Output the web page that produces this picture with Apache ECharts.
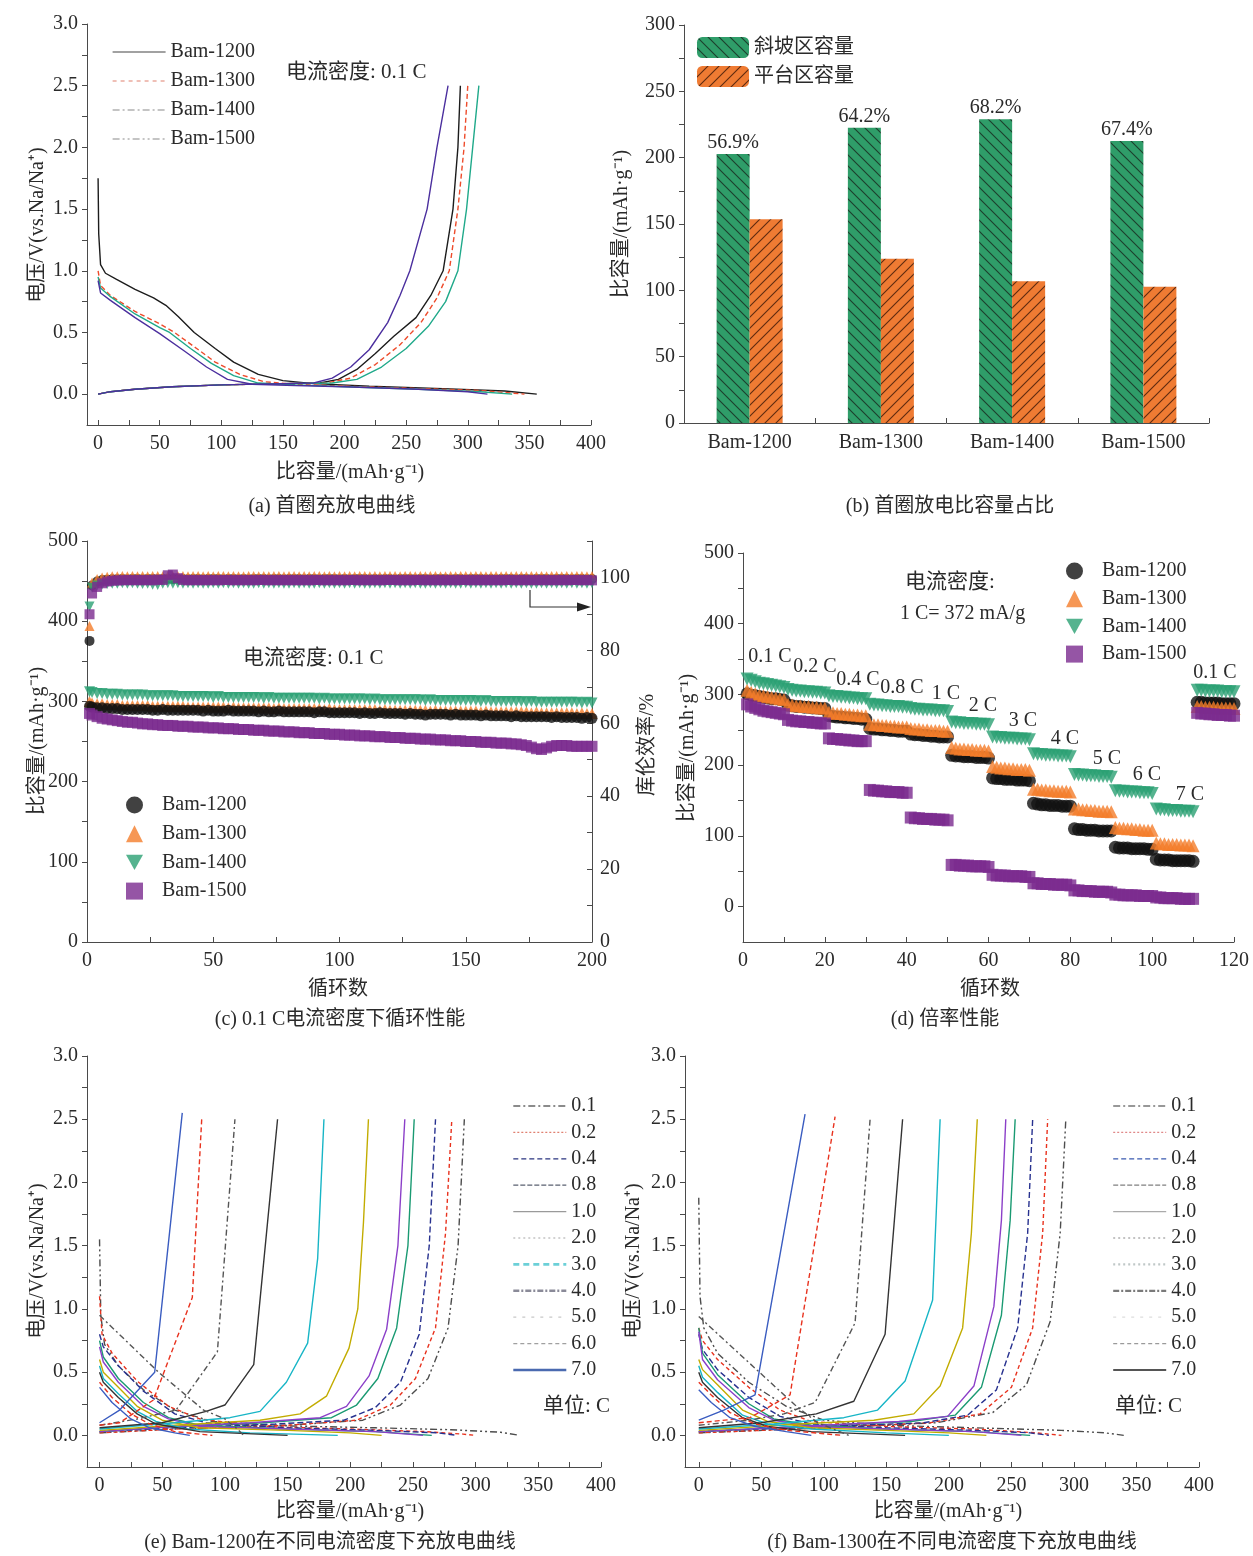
<!DOCTYPE html>
<html>
<head>
<meta charset="utf-8">
<script src="https://cdn.jsdelivr.net/npm/echarts@6/dist/echarts.min.js"></script>
<style>
html,body{margin:0;padding:0;background:#fff;}
#main{width:1253px;height:1556px;}
</style>
</head>
<body>
<div id="main"></div>
<script>
// ===================== (a) first-cycle curves: [capacity mAh/g, voltage V] =====================
const samples = ['Bam-1200', 'Bam-1300', 'Bam-1400', 'Bam-1500'];
const firstDis1200 = [[0,1.75],[0.5,1.3],[2,1.05],[6,0.98],[15,0.93],[30,0.85],[45,0.78],[55,0.72],[65,0.63],[78,0.5],[95,0.37],[110,0.26],[130,0.16],[150,0.11],[175,0.085],[220,0.065],[280,0.045],[330,0.025],[356,0]];
const firstDis1300 = [[0,1.0],[2,0.88],[10,0.8],[30,0.67],[50,0.57],[62,0.5],[80,0.37],[95,0.26],[115,0.16],[135,0.1],[160,0.08],[200,0.065],[260,0.045],[310,0.03],[346,0]];
const firstDis1400 = [[0,0.95],[2,0.86],[10,0.79],[30,0.65],[50,0.54],[58,0.5],[75,0.37],[92,0.25],[110,0.15],[130,0.09],[160,0.075],[200,0.06],[260,0.04],[310,0.02],[336,0]];
const firstDis1500 = [[0,0.92],[2,0.82],[10,0.76],[30,0.62],[50,0.49],[70,0.35],[88,0.22],[105,0.12],[125,0.08],[160,0.07],[200,0.06],[260,0.04],[300,0.02],[316,0]];
const firstChg1200 = [[0,0],[10,0.02],[30,0.04],[60,0.06],[100,0.075],[150,0.085],[180,0.09],[195,0.12],[210,0.2],[225,0.33],[240,0.47],[258,0.62],[270,0.8],[280,1.0],[288,1.5],[292,2.0],[294,2.5]];
const firstChg1300 = [[0,0],[10,0.02],[30,0.04],[60,0.06],[100,0.075],[150,0.085],[185,0.09],[205,0.13],[225,0.24],[245,0.4],[262,0.58],[275,0.78],[285,1.0],[292,1.5],[297,2.0],[300,2.5]];
const firstChg1400 = [[0,0],[10,0.02],[30,0.04],[60,0.06],[100,0.075],[150,0.085],[190,0.09],[210,0.12],[230,0.22],[250,0.37],[268,0.55],[282,0.75],[292,1.0],[299,1.5],[304,2.0],[309,2.5]];
const firstChg1500 = [[0,0],[10,0.02],[30,0.04],[60,0.06],[100,0.075],[150,0.085],[175,0.09],[190,0.13],[205,0.22],[220,0.36],[235,0.58],[245,0.8],[253,1.0],[267,1.5],[275,2.0],[284,2.5]];

// ===================== (b) first discharge capacity split =====================
const regionNames = ['斜坡区容量', '平台区容量'];
const slopeCap = [202.7, 222.5, 229.0, 212.6];
const plateauCap = [153.5, 123.8, 106.8, 102.7];
const slopeShares = ['56.9%', '64.2%', '68.2%', '67.4%'];

// ===================== (c) cycling at 0.1 C (cycle 1, then every 2nd cycle) =====================
const cycleCycles = [1];
for (let n = 2; n <= 200; n += 2) cycleCycles.push(n);
const cap1200 = [294,
 293,292,292,291,291,291,290,290,290,290,
 290,290,289,289,290,289,289,289,289,289,
 289,289,288,289,288,288,288,289,288,288,
 288,288,288,287,288,287,287,288,287,287,
 287,287,287,287,286,287,287,286,286,286,
 286,286,286,285,286,285,285,286,285,285,
 285,285,284,285,284,284,283,284,284,284,
 284,283,284,283,283,283,283,282,283,282,
 282,282,282,281,282,281,281,281,281,281,
 281,280,281,280,280,280,280,279,280,279];
const cap1300 = [300,
 298,297,297,296,296,296,295,295,295,295,
 295,295,294,294,294,294,294,294,294,293,
 293,293,293,293,293,293,293,292,293,292,
 292,292,292,292,292,292,291,292,291,291,
 291,291,291,291,291,291,290,291,290,290,
 290,290,290,290,290,290,290,289,290,289,
 289,289,289,289,289,289,289,288,289,288,
 288,288,288,288,288,288,288,287,288,287,
 287,287,287,287,287,287,287,286,287,286,
 286,286,286,286,286,286,285,286,285,285];
const cap1400 = [312,
 311,310,310,309,309,309,308,308,308,308,
 308,307,307,307,307,307,307,306,306,306,
 306,306,306,306,305,306,305,305,305,305,
 305,305,305,305,304,305,304,304,304,304,
 304,304,304,304,304,303,304,303,303,303,
 303,303,303,303,303,302,303,302,302,302,
 302,302,302,302,302,302,301,302,301,301,
 301,301,301,301,301,301,301,300,301,300,
 300,300,300,300,300,300,299,300,299,299,
 299,299,299,299,299,299,299,298,299,298];
const cap1500 = [285,
 283,281,279,278,277,276,275,274,274,273,
 272,272,271,271,270,270,270,269,269,269,
 268,268,268,267,267,267,266,266,266,265,
 265,265,264,264,264,263,263,263,262,262,
 262,261,261,261,260,260,260,259,259,259,
 258,258,258,257,257,257,256,256,256,255,
 255,255,254,254,254,253,253,253,252,252,
 252,251,251,251,250,250,250,249,249,249,
 248,248,248,247,247,246,245,243,241,240,
 242,244,245,245,245,244,244,244,244,244];
const eff1200 = [82.6,
 97.8,98.9,99.3,99.4,99.5,99.5,99.6,99.5,99.6,99.6,
 99.5,99.6,99.6,99.5,99.6,99.6,99.5,99.6,99.6,99.5,
 99.6,99.6,99.5,99.6,99.6,99.6,99.5,99.6,99.6,99.5,
 99.6,99.5,99.6,99.6,99.6,99.5,99.6,99.6,99.5,99.6,
 99.6,99.6,99.5,99.6,99.6,99.5,99.6,99.6,99.6,99.5,
 99.6,99.5,99.6,99.6,99.6,99.5,99.6,99.5,99.6,99.6,
 99.5,99.6,99.6,99.6,99.5,99.6,99.6,99.5,99.6,99.6,
 99.6,99.5,99.6,99.6,99.5,99.6,99.6,99.6,99.5,99.6,
 99.5,99.6,99.6,99.6,99.5,99.6,99.6,99.5,99.6,99.6,
 99.6,99.5,99.6,99.6,99.6,99.5,99.6,99.6,99.5,99.6];
const eff1300 = [86.7,
 98.6,99.6,100.0,100.2,100.3,100.3,100.4,100.3,100.4,100.3,
 100.4,100.3,100.4,100.4,100.3,100.4,100.3,100.4,100.4,100.3,
 100.4,100.4,100.3,100.4,100.3,100.4,100.4,100.3,100.4,100.3,
 100.3,100.4,100.4,100.3,100.4,100.3,100.4,100.4,100.3,100.4,
 100.4,100.3,100.4,100.3,100.4,100.4,100.3,100.4,100.3,100.4,
 100.3,100.4,100.3,100.4,100.4,100.3,100.4,100.3,100.4,100.4,
 100.4,100.3,100.4,100.4,100.3,100.4,100.3,100.4,100.4,100.3,
 100.3,100.4,100.3,100.4,100.4,100.3,100.4,100.4,100.3,100.4,
 100.4,100.3,100.4,100.3,100.4,100.4,100.3,100.4,100.3,100.4,
 100.3,100.4,100.4,100.3,100.4,100.3,100.4,100.4,100.3,100.4];
const eff1400 = [92.0,
 97.2,97.8,98.1,98.2,98.3,98.3,98.4,98.3,98.4,98.3,
 98.2,98.3,98.0,97.9,98.3,98.4,98.3,98.4,98.3,98.4,
 98.3,98.4,98.3,98.3,98.4,98.3,98.4,98.3,98.4,98.3,
 98.4,98.3,98.3,98.4,98.3,98.4,98.3,98.4,98.3,98.3,
 98.4,98.3,98.4,98.3,98.3,98.4,98.3,98.4,98.3,98.4,
 98.3,98.4,98.3,98.4,98.3,98.3,98.4,98.3,98.4,98.3,
 98.4,98.3,98.4,98.3,98.4,98.3,98.3,98.4,98.3,98.4,
 98.3,98.4,98.3,98.3,98.4,98.3,98.4,98.3,98.4,98.3,
 98.4,98.3,98.4,98.3,98.4,98.3,98.4,98.3,98.3,98.4,
 98.3,98.4,98.3,98.4,98.3,98.4,98.3,98.4,98.3,98.4];
const eff1500 = [89.9,
 95.6,97.4,98.4,98.9,99.1,99.2,99.2,99.3,99.2,99.3,
 99.2,99.3,99.2,99.4,99.3,100.6,100.8,99.8,99.3,99.2,
 99.3,99.2,99.3,99.2,99.3,99.2,99.3,99.3,99.2,99.3,
 99.2,99.3,99.2,99.3,99.3,99.2,99.3,99.2,99.3,99.2,
 99.3,99.2,99.3,99.2,99.3,99.3,99.2,99.3,99.2,99.3,
 99.2,99.3,99.3,99.2,99.3,99.2,99.3,99.2,99.3,99.3,
 99.3,99.2,99.3,99.2,99.3,99.3,99.2,99.3,99.2,99.3,
 99.2,99.3,99.2,99.3,99.3,99.2,99.3,99.2,99.3,99.2,
 99.3,99.2,99.3,99.3,99.2,99.3,99.2,99.3,99.2,99.3,
 99.2,99.3,99.2,99.3,99.2,99.3,99.3,99.2,99.3,99.2];

// ===================== (d) rate capability, 10 cycles per current step =====================
const rateCycles = [];
for (let n = 1; n <= 120; n++) rateCycles.push(n);
const rateSteps = ['0.1 C','0.2 C','0.4 C','0.8 C','1 C','2 C','3 C','4 C','5 C','6 C','7 C','0.1 C'];
const rate1200 = [
 301,299,298,297,296,295,294,294,293,292,
 285,284,283,283,282,282,281,281,280,280,
 270,269,268,268,267,267,266,266,265,265,
 252,251,251,250,250,249,249,248,248,248,
 244,243,243,242,242,241,241,240,240,240,
 214,213,213,212,212,212,211,211,211,210,
 182,181,181,180,180,180,179,179,179,178,
 146,145,144,144,143,143,143,142,142,142,
 110,109,109,108,108,108,107,107,107,107,
 84,83,83,83,82,82,82,82,81,81,
 67,66,66,66,65,65,65,65,65,64,
 289,289,288,288,288,288,287,287,287,287];
const rate1300 = [
 306,303,301,299,298,297,296,295,294,293,
 286,285,284,284,283,283,282,282,281,281,
 275,274,273,273,272,272,271,271,270,270,
 258,257,257,256,256,255,255,254,254,254,
 252,251,251,250,250,249,249,249,248,248,
 225,224,223,223,222,222,221,221,221,220,
 198,197,196,196,195,195,194,194,194,193,
 166,166,165,165,164,164,163,163,163,162,
 138,138,137,137,136,136,135,135,135,134,
 112,111,111,110,110,109,109,108,108,108,
 90,89,89,88,88,88,87,87,87,86,
 283,283,282,282,282,281,281,281,281,280];
const rate1400 = [
 322,320,318,316,315,314,313,312,311,310,
 307,306,305,305,304,304,303,303,302,302,
 298,297,297,296,296,295,295,294,294,294,
 286,285,285,284,284,283,283,283,282,282,
 280,279,279,278,278,278,277,277,277,276,
 261,260,260,259,259,259,258,258,258,257,
 240,239,239,238,238,238,237,237,237,236,
 216,215,215,214,214,214,213,213,213,212,
 187,186,186,185,185,185,184,184,184,183,
 164,163,163,162,162,162,161,161,161,160,
 138,137,137,136,136,136,135,135,135,134,
 306,306,305,305,305,305,304,304,304,304];
const rate1500 = [
 286,283,281,279,277,276,275,274,273,272,
 264,263,262,262,261,261,260,260,259,259,
 238,237,237,236,236,235,235,234,234,234,
 165,164,164,163,163,162,162,162,161,161,
 126,125,125,124,124,124,123,123,123,122,
 59,59,58,58,58,57,57,57,57,56,
 45,44,44,44,43,43,43,43,42,42,
 33,33,32,32,32,31,31,31,31,30,
 23,23,22,22,22,21,21,21,21,20,
 17,17,16,16,16,16,15,15,15,15,
 13,13,12,12,12,12,11,11,11,11,
 274,273,273,272,272,271,271,271,270,270];

// ===================== (e)(f) curves at each current density, [capacity, voltage] =====================
const rates = ['0.1','0.2','0.4','0.8','1.0','2.0','3.0','4.0','5.0','6.0','7.0'];
const bam1200Dis = [
 [[0,1.55],[1,0.95],[4,0.72],[15,0.55],[35,0.36],[60,0.2],[90,0.11],[150,0.075],[220,0.06],[280,0.045],[320,0.025],[335,0]],
 [[0,1.1],[2,0.8],[10,0.65],[30,0.43],[55,0.23],[80,0.13],[130,0.07],[200,0.05],[260,0.03],[290,0.01],[300,0]],
 [[0,0.8],[3,0.7],[15,0.55],[35,0.35],[60,0.17],[85,0.1],[150,0.06],[220,0.04],[270,0.02],[285,0]],
 [[0,0.75],[3,0.62],[15,0.45],[35,0.26],[55,0.14],[80,0.08],[150,0.05],[220,0.03],[265,0]],
 [[0,0.7],[3,0.58],[15,0.42],[35,0.23],[55,0.13],[80,0.07],[150,0.05],[220,0.03],[258,0]],
 [[0,0.6],[3,0.5],[15,0.38],[30,0.23],[50,0.12],[80,0.06],[150,0.04],[200,0.02],[225,0]],
 [[0,0.55],[3,0.45],[15,0.33],[30,0.19],[45,0.11],[70,0.05],[120,0.02],[190,0]],
 [[0,0.5],[3,0.42],[15,0.3],[30,0.17],[45,0.09],[80,0.03],[150,0]],
 [[0,0.95],[47,0.5],[83,0.2],[100,0.13],[110,0.05],[115,0]],
 [[0,0.42],[10,0.3],[25,0.17],[40,0.09],[60,0.03],[90,0]],
 [[0,0.38],[10,0.26],[25,0.13],[40,0.06],[60,0.02],[72,0]]
];
const bam1200Chg = [
 [[0,0.02],[60,0.05],[150,0.08],[210,0.12],[240,0.24],[262,0.45],[278,0.85],[286,1.5],[291,2.5]],
 [[0,0.02],[60,0.05],[150,0.08],[205,0.12],[232,0.24],[252,0.45],[268,0.85],[276,1.6],[281,2.5]],
 [[0,0.03],[60,0.06],[140,0.09],[195,0.12],[220,0.22],[240,0.42],[255,0.8],[263,1.5],[268,2.5]],
 [[0,0.03],[60,0.07],[130,0.1],[185,0.14],[205,0.24],[222,0.45],[237,0.85],[246,1.5],[251,2.5]],
 [[0,0.03],[60,0.07],[120,0.1],[176,0.14],[197,0.23],[215,0.47],[229,0.84],[238,1.5],[243.5,2.5]],
 [[0,0.04],[60,0.08],[128,0.12],[160,0.17],[181,0.31],[199,0.69],[206,1.0],[210.5,1.68],[214.5,2.5]],
 [[0,0.05],[60,0.1],[104,0.14],[128,0.19],[149,0.42],[166,0.73],[174,1.4],[179,2.5]],
 [[0,0.06],[50,0.1],[85,0.19],[100,0.24],[123,0.56],[142,2.5]],
 [[0,0.08],[30,0.13],[61,0.2],[94,0.66],[108,2.5]],
 [[0,0.08],[16,0.1],[43,0.28],[74,1.09],[81.5,2.5]],
 [[0,0.1],[16,0.2],[44,0.5],[66,2.55]]
];
const bam1300Dis = [
 [[0,1.88],[1,1.1],[4,0.85],[15,0.65],[40,0.42],[70,0.23],[100,0.12],[150,0.08],[220,0.06],[290,0.04],[325,0.02],[340,0]],
 [[0,0.85],[3,0.75],[15,0.6],[40,0.38],[65,0.2],[90,0.11],[150,0.07],[220,0.05],[270,0.02],[290,0]],
 [[0,0.8],[3,0.68],[15,0.52],[40,0.3],[65,0.15],[90,0.09],[150,0.06],[220,0.04],[265,0.02],[280,0]],
 [[0,0.85],[3,0.65],[15,0.48],[40,0.25],[60,0.13],[90,0.08],[150,0.05],[220,0.03],[265,0]],
 [[0,0.82],[3,0.6],[15,0.44],[40,0.22],[60,0.12],[90,0.07],[150,0.05],[220,0.03],[258,0]],
 [[0,0.6],[3,0.52],[15,0.4],[35,0.2],[55,0.11],[90,0.06],[150,0.04],[200,0.02],[230,0]],
 [[0,0.55],[3,0.46],[15,0.34],[35,0.16],[55,0.09],[90,0.05],[150,0.02],[200,0]],
 [[0,0.5],[3,0.42],[15,0.3],[35,0.14],[55,0.07],[90,0.03],[165,0]],
 [[0,0.94],[77,0.24],[95,0.1],[110,0.04],[120,0]],
 [[0,0.42],[10,0.32],[25,0.18],[45,0.09],[70,0.04],[115,0]],
 [[0,0.36],[10,0.26],[25,0.14],[45,0.07],[70,0.03],[90,0]]
];
const bam1300Chg = [
 [[0,0.02],[100,0.06],[190,0.1],[235,0.18],[262,0.4],[281,0.9],[289,1.6],[293.5,2.5]],
 [[0,0.02],[100,0.06],[185,0.1],[225,0.17],[250,0.38],[267,0.85],[275,1.6],[279,2.5]],
 [[0,0.03],[100,0.07],[180,0.1],[215,0.16],[238,0.36],[255,0.85],[263,1.6],[267,2.5]],
 [[0,0.03],[100,0.08],[170,0.11],[205,0.16],[226,0.38],[242,0.95],[249,1.7],[253,2.5]],
 [[0,0.03],[100,0.08],[160,0.11],[199,0.15],[220,0.39],[236,1.02],[242,1.7],[245.5,2.5]],
 [[0,0.04],[80,0.09],[140,0.12],[172,0.17],[193,0.39],[211,0.85],[218,1.6],[222.7,2.5]],
 [[0,0.05],[60,0.09],[116,0.14],[143,0.2],[165,0.43],[187,1.07],[193,2.5]],
 [[0,0.06],[50,0.1],[94,0.17],[124,0.27],[149,0.8],[163,2.5]],
 [[0,0.08],[40,0.12],[68,0.17],[93,0.26],[125,0.89],[137,2.5]],
 [[0,0.1],[41,0.14],[73,0.32],[109,2.52]],
 [[0,0.12],[20,0.2],[45,0.32],[85,2.54]]
];

// ===================== styling =====================
const FONT = "'Liberation Serif', 'Noto Sans CJK SC', serif";
const TXT = '#2a2a2a';
const AX = '#4a4a4a';
const sampleColors = ['#1c1c1c', '#ee4b2b', '#1fa98a', '#4b2f9e'];
const sampleDash = ['solid', [5, 3], 'solid', 'solid'];
const markColors = ['#111111', '#f47d2b', '#2aa073', '#7a2a8f'];
const markSymbols = ['circle', 'triangle', 'triangle', 'rect'];
const markRotate = [0, 0, 180, 0];
const markLegendIcons = ['circle', 'triangle', 'path://M0,0 L10,0 L5,9 Z', 'rect'];
const rateColors = ['#4d4d4d', '#e8321e', '#27318f', '#1a9a72', '#8b3fc8', '#c2ac00', '#17b5c6', '#333333', '#555555', '#e8321e', '#3a5cc0'];
const rateDash = [[7,3,2,3,2,3], [4,3], [6,3], 'solid', 'solid', 'solid', 'solid', 'solid', [6,3,2,3], [5,3], 'solid'];

function hatch(bg, fg, back) {
  const s = 11, c = document.createElement('canvas');
  c.width = c.height = s;
  const g = c.getContext('2d');
  g.fillStyle = bg; g.fillRect(0, 0, s, s);
  g.strokeStyle = fg; g.lineWidth = 1.1; g.beginPath();
  if (back) {
    g.moveTo(-1, -1); g.lineTo(s + 1, s + 1);
    g.moveTo(-1, s - 1); g.lineTo(1, s + 1);
    g.moveTo(s - 1, -1); g.lineTo(s + 1, 1);
  } else {
    g.moveTo(-1, s + 1); g.lineTo(s + 1, -1);
    g.moveTo(-1, 1); g.lineTo(1, -1);
    g.moveTo(s - 1, s + 1); g.lineTo(s + 1, s - 1);
  }
  g.stroke();
  return c;
}
const greenFill = { image: hatch('#2f9d69', '#1d3f2d', true), repeat: 'repeat' };
const orangeFill = { image: hatch('#ef7b33', '#5e2a10', false), repeat: 'repeat' };

function seq(a, b, step) { const r = []; for (let v = a; v <= b + 1e-9; v += step) r.push(+v.toFixed(3)); return r; }

function valueAxis(grid, min, max, ticks, labels, opt) {
  opt = opt || {};
  return {
    type: 'value', gridIndex: grid, min: min, max: max, position: opt.position,
    axisLine: { show: true, onZero: false, lineStyle: { color: AX, width: 1 } },
    axisTick: { show: true, inside: !!opt.inside, length: 5, customValues: ticks, lineStyle: { color: AX } },
    axisLabel: { customValues: labels, fontSize: 20, fontFamily: FONT, color: TXT, margin: opt.margin || 9,
      formatter: opt.fmt || (v => String(v)) },
    splitLine: { show: false }
  };
}
const volt = v => v.toFixed(1);

const grids = [
  { left: 87, top: 24, width: 504, height: 401 },   // a
  { left: 684, top: 25, width: 525, height: 398 },  // b
  { left: 87, top: 541, width: 505, height: 401 },  // c
  { left: 743, top: 553, width: 491, height: 389 }, // d
  { left: 87, top: 1056, width: 514, height: 411 }, // e
  { left: 685, top: 1056, width: 514, height: 411 } // f
].map(g => Object.assign({ containLabel: false, outerBoundsMode: 'none' }, g));

const xAxes = [
  valueAxis(0, -9, 400, seq(0, 400, 25), seq(0, 400, 50), { inside: true }),
  { type: 'category', gridIndex: 1, data: samples,
    axisLine: { show: true, lineStyle: { color: AX } },
    axisTick: { show: true, inside: true, length: 5, lineStyle: { color: AX } },
    axisLabel: { fontSize: 20, fontFamily: FONT, color: TXT, margin: 10 } },
  valueAxis(2, 0, 200, seq(0, 200, 25), seq(0, 200, 50), { inside: true }),
  valueAxis(3, 0, 120, seq(0, 120, 10), seq(0, 120, 20), { inside: true }),
  valueAxis(4, -10, 400, seq(0, 400, 25), seq(0, 400, 50), { inside: true }),
  valueAxis(5, -11, 400, seq(0, 400, 25), seq(0, 400, 50), { inside: true })
];
const yAxes = [
  valueAxis(0, -0.25, 3.0, seq(0, 3, 0.25), seq(0, 3, 0.5), { fmt: volt }),
  valueAxis(1, 0, 300, seq(0, 300, 25), seq(0, 300, 50)),
  valueAxis(2, 0, 500, seq(0, 500, 50), seq(0, 500, 100)),
  valueAxis(2, 0, 110, seq(0, 110, 10), seq(0, 100, 20), { position: 'right', inside: true, margin: 8 }),
  valueAxis(3, -50, 500, seq(0, 500, 50), seq(0, 500, 100)),
  valueAxis(4, -0.25, 3.0, seq(0, 3, 0.25), seq(0, 3, 0.5), { fmt: volt }),
  valueAxis(5, -0.25, 3.0, seq(0, 3, 0.25), seq(0, 3, 0.5), { fmt: volt })
];

const series = [];
// (a)
const firstDis = [firstDis1200, firstDis1300, firstDis1400, firstDis1500];
const firstChg = [firstChg1200, firstChg1300, firstChg1400, firstChg1500];
samples.forEach((s, i) => {
  [firstDis[i], firstChg[i]].forEach(d => series.push({
    type: 'line', name: 'a|' + s, xAxisIndex: 0, yAxisIndex: 0, data: d, symbol: 'none', showSymbol: false,
    lineStyle: { color: sampleColors[i], width: 1.4, type: sampleDash[i] }, itemStyle: { color: sampleColors[i] }
  }));
});
// (b)
series.push({
  type: 'bar', name: regionNames[0], xAxisIndex: 1, yAxisIndex: 1, data: slopeCap, barWidth: 33, barGap: '0%',
  itemStyle: { color: greenFill },
  label: { show: true, position: 'top', distance: 1, fontSize: 20, fontFamily: FONT, color: TXT,
    formatter: p => slopeShares[p.dataIndex] }
});
series.push({
  type: 'bar', name: regionNames[1], xAxisIndex: 1, yAxisIndex: 1, data: plateauCap, barWidth: 33, barGap: '0%',
  itemStyle: { color: orangeFill }
});
// (c)
const cycCap = [cap1200, cap1300, cap1400, cap1500];
const cycEff = [eff1200, eff1300, eff1400, eff1500];
[1, 0, 2, 3].forEach(i => series.push({
  type: 'scatter', name: 'c|' + samples[i], xAxisIndex: 2, yAxisIndex: 2,
  data: cycleCycles.map((c, k) => [c, cycCap[i][k]]),
  symbol: markSymbols[i], symbolRotate: markRotate[i], symbolSize: 11,
  itemStyle: { color: markColors[i] }
}));
[0, 1, 2, 3].forEach(i => series.push({
  type: 'scatter', name: 'c|' + samples[i], xAxisIndex: 2, yAxisIndex: 3,
  data: cycleCycles.map((c, k) => [c, cycEff[i][k]]),
  symbol: markSymbols[i], symbolRotate: markRotate[i], symbolSize: 10,
  itemStyle: { color: markColors[i] }
}));
// (d)
const rateCap = [rate1200, rate1300, rate1400, rate1500];
[0, 1, 2, 3].forEach(i => series.push({
  type: 'scatter', name: 'd|' + samples[i], xAxisIndex: 3, yAxisIndex: 4,
  data: rateCycles.map((c, k) => [c, rateCap[i][k]]),
  symbol: markSymbols[i], symbolRotate: markRotate[i], symbolSize: i === 3 ? 12 : 13,
  itemStyle: { color: markColors[i] }
}));
// (e)(f)
[[bam1200Dis, bam1200Chg, 'e', 4, 5], [bam1300Dis, bam1300Chg, 'f', 5, 6]].forEach(([dis, chg, key, xi, yi]) => {
  rates.forEach((r, i) => {
    [dis[i], chg[i]].forEach(d => series.push({
      type: 'line', name: key + '|' + r, xAxisIndex: xi, yAxisIndex: yi, data: d, symbol: 'none', showSymbol: false,
      lineStyle: { color: rateColors[i], width: 1.4, type: rateDash[i] }, itemStyle: { color: rateColors[i] }
    }));
  });
});

// legends
const legText = { fontSize: 20, fontFamily: FONT, color: TXT };
const stripKey = n => (n.indexOf('|') >= 0 ? n.split('|')[1] : n);
const noMark = { opacity: 0, borderWidth: 0 };
const aLegendLines = [
  { color: '#444', type: 'solid', width: 1.2 },
  { color: '#e0806e', type: [4, 4], width: 1.2 },
  { color: '#8a8a8a', type: [7, 3, 2, 3], width: 1.2 },
  { color: '#8a8a8a', type: [7, 3, 2, 3, 2, 3], width: 1.2 }
];
const eLegendLines = [
  { color: '#666', type: [7,3,2,3], width: 1.3 }, { color: '#e08070', type: [2,2], width: 1.3 },
  { color: '#2a3480', type: [5,3], width: 1.3 }, { color: '#5a6070', type: [5,2], width: 1.3 },
  { color: '#9a9a9a', type: 'solid', width: 1.3 }, { color: '#c4c4c4', type: [2,3], width: 1.3 },
  { color: '#6cd0d8', type: [6,4], width: 2.6 }, { color: '#8a8a98', type: [6,2,2,2], width: 2.6 },
  { color: '#c8c8c8', type: [3,6], width: 1.3 }, { color: '#a0a0a0', type: [4,3], width: 1.3 },
  { color: '#4a6ab0', type: 'solid', width: 2.6 }
];
const fLegendLines = [
  { color: '#777', type: [7,3,2,3], width: 1.3 }, { color: '#e08888', type: [2,2], width: 1.3 },
  { color: '#3a5ab0', type: [5,3], width: 1.3 }, { color: '#808080', type: [5,2], width: 1.3 },
  { color: '#aaaaaa', type: 'solid', width: 1.3 }, { color: '#b0b0b0', type: [2,3], width: 1.3 },
  { color: '#c0c8c8', type: [2,3], width: 2.4 }, { color: '#7a7a7a', type: [6,2,2,2], width: 2.2 },
  { color: '#dddddd', type: [3,6], width: 1.3 }, { color: '#9a9a9a', type: [4,3], width: 1.3 },
  { color: '#555555', type: 'solid', width: 2.2 }
];
const markText = Object.assign({}, legText, { padding: [0, 0, 0, 14] });
const markItems = key => samples.map((s, i) => ({ name: key + '|' + s, icon: markLegendIcons[i] }));
const legends = [
  { left: 112, top: 42, orient: 'vertical', itemWidth: 53, itemHeight: 14, itemGap: 9,
    data: samples.map((s, i) => ({ name: 'a|' + s, lineStyle: aLegendLines[i], itemStyle: noMark })) },
  { left: 697, top: 37, orient: 'vertical', itemWidth: 52, itemHeight: 21, itemGap: 8,
    data: regionNames },
  { left: 126, top: 795, orient: 'vertical', itemWidth: 17, itemHeight: 17, itemGap: 8.7, textStyle: markText,
    data: markItems('c') },
  { left: 1066, top: 561, orient: 'vertical', itemWidth: 17, itemHeight: 17, itemGap: 7.7, textStyle: markText,
    data: markItems('d') },
  { left: 512, top: 1096, orient: 'vertical', itemWidth: 53, itemHeight: 14, itemGap: 6.4,
    data: rates.map((r, i) => ({ name: 'e|' + r, lineStyle: eLegendLines[i], itemStyle: noMark })) },
  { left: 1112, top: 1096, orient: 'vertical', itemWidth: 53, itemHeight: 14, itemGap: 6.4,
    data: rates.map((r, i) => ({ name: 'f|' + r, lineStyle: fLegendLines[i], itemStyle: noMark })) }
].map(l => Object.assign({ selectedMode: false, textStyle: legText, formatter: stripKey, padding: 0 }, l));

// text: captions, axis titles, notes
const T = (text, x, y, o) => Object.assign({
  type: 'text', x: x, y: y, silent: true,
  style: { text: text, font: ((o && o.size) || 20) + 'px ' + FONT, fill: TXT, align: 'center', verticalAlign: 'middle' }
}, o && o.rot ? { rotation: o.rot } : {});
const L = (text, x, y, size) => ({
  type: 'text', x: x, y: y, silent: true,
  style: { text: text, font: (size || 20) + 'px ' + FONT, fill: TXT, align: 'left', verticalAlign: 'middle' }
});
const capTitle = '比容量/(mAh·g⁻¹)';
const voltTitle = '电压/V(vs.Na/Na⁺)';
const up = Math.PI / 2;
const graphics = [
  T('(a) 首圈充放电曲线', 332, 507),
  T('(b) 首圈放电比容量占比', 950, 507),
  T('(c) 0.1 C电流密度下循环性能', 340, 1020),
  T('(d) 倍率性能', 945, 1020),
  T('(e) Bam-1200在不同电流密度下充放电曲线', 330, 1543),
  T('(f) Bam-1300在不同电流密度下充放电曲线', 952, 1543),
  T(capTitle, 350, 473), T(capTitle, 350, 1512), T(capTitle, 948, 1512),
  T('循环数', 338, 990), T('循环数', 990, 990),
  T(voltTitle, 38, 225, { rot: up }), T(voltTitle, 38, 1261, { rot: up }), T(voltTitle, 634, 1261, { rot: up }),
  T(capTitle, 622, 224, { rot: up }), T(capTitle, 38, 741, { rot: up }), T(capTitle, 688, 748, { rot: up }),
  T('库伦效率/%', 648, 745, { rot: up }),
  L('电流密度: 0.1 C', 286, 72, 21), L('电流密度: 0.1 C', 243, 658, 21),
  L('电流密度:', 905, 582, 21), L('1 C= 372 mA/g', 900, 614, 20),
  L('单位: C', 543, 1406, 21), L('单位: C', 1115, 1406, 21),
  { type: 'polyline', silent: true, shape: { points: [[530, 590], [530, 607], [580, 607]] },
    style: { stroke: '#333', lineWidth: 1.2, fill: null } },
  { type: 'polygon', silent: true, shape: { points: [[591, 607], [577, 602.5], [577, 611.5]] },
    style: { fill: '#222' } }
];
const stepLabelPos = [[770,657],[815,667],[858,680],[902,688],[946,694],[983,706],[1023,721],[1065,739],[1107,759],[1147,775],[1190,795],[1215,673]];
rateSteps.forEach((t, i) => graphics.push(T(t, stepLabelPos[i][0], stepLabelPos[i][1])));

const chart = echarts.init(document.getElementById('main'), null, { renderer: 'canvas', width: 1253, height: 1556 });
chart.setOption({
  animation: false,
  backgroundColor: '#ffffff',
  grid: grids,
  xAxis: xAxes,
  yAxis: yAxes,
  legend: legends,
  series: series,
  graphic: graphics
});
</script>
</body>
</html>
